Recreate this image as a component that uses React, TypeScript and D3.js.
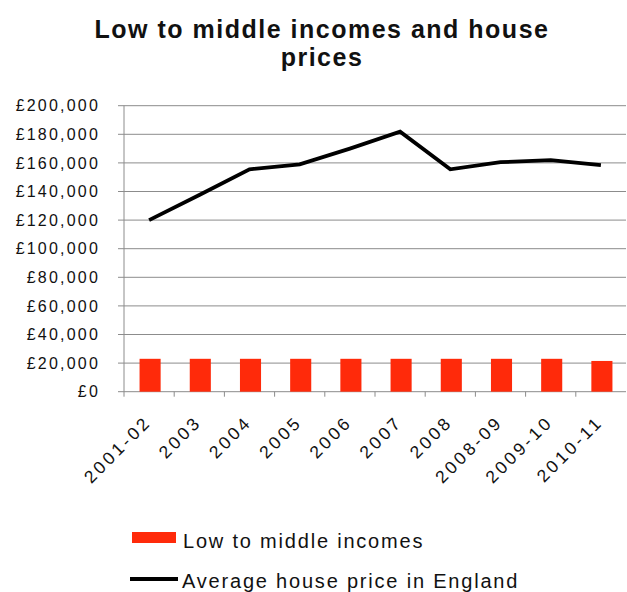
import React from "react";
import * as d3 from "d3";

const categories = ["2001-02", "2003", "2004", "2005", "2006", "2007", "2008", "2008-09", "2009-10", "2010-11"];
const incomes = [23000, 23000, 23000, 23000, 23000, 23000, 23000, 23000, 23000, 21500];
const housePrices = [120000, 137500, 155500, 159000, 170000, 181800, 155500, 160500, 162000, 158500];
const yTicks = [0, 20000, 40000, 60000, 80000, 100000, 120000, 140000, 160000, 180000, 200000];
const titleLines = ["Low to middle incomes and house", "prices"];
const legendLabels = ["Low to middle incomes", "Average house price in England"];

const W = 627;
const H = 592;
const left = 124;
const right = 626;
const top = 105.7;
const bottom = 391.7;

export default function App() {
  const x = d3.scaleBand<string>().domain(categories).range([left, right]).padding(0);
  const y = d3.scaleLinear().domain([0, 200000]).range([bottom, top]);
  const barW = x.bandwidth() * 0.42;
  const fmt = (v: number) => "£" + d3.format(",")(v);
  const line = d3
    .line<number>()
    .x((_, i) => (x(categories[i]) as number) + x.bandwidth() / 2)
    .y((d) => y(d));

  const font = "'Liberation Sans', Arial, sans-serif";

  return (
    <svg width={W} height={H} style={{ position: "absolute", left: 0, top: 0, background: "#fff" }}>
      <rect x={0} y={0} width={W} height={H} fill="#fff" />
      {titleLines.map((t, i) => (
        <text
          key={i}
          x={322}
          y={37.5 + i * 28.5}
          textAnchor="middle"
          fontFamily={font}
          fontWeight="bold"
          fontSize={25}
          letterSpacing={1.5}
          fill="#111"
        >
          {t}
        </text>
      ))}
      {yTicks.map((t) => (
        <g key={t}>
          {t > 0 && (
            <line x1={left} x2={right} y1={y(t)} y2={y(t)} stroke="#8c8c8c" strokeWidth={1} />
          )}
          <line x1={left - 6} x2={left} y1={y(t)} y2={y(t)} stroke="#8c8c8c" strokeWidth={1} />
          <text
            x={100}
            y={y(t)}
            dy="0.36em"
            textAnchor="end"
            fontFamily={font}
            fontSize={16}
            letterSpacing={2.2}
            fill="#111"
          >
            {fmt(t)}
          </text>
        </g>
      ))}
      <line x1={left} x2={left} y1={top} y2={bottom} stroke="#8c8c8c" strokeWidth={1} />
      <line x1={left} x2={right} y1={bottom} y2={bottom} stroke="#8c8c8c" strokeWidth={1} />
      {categories.map((c, i) => (
        <line
          key={"tk" + i}
          x1={x(c) as number}
          x2={x(c) as number}
          y1={bottom}
          y2={bottom + 5}
          stroke="#8c8c8c"
          strokeWidth={1}
        />
      ))}
      {incomes.map((v, i) => (
        <rect
          key={"b" + i}
          x={(x(categories[i]) as number) + (x.bandwidth() - barW) / 2 + 1}
          y={y(v)}
          width={barW}
          height={bottom - y(v)}
          fill="#ff2a0a"
        />
      ))}
      <path d={line(housePrices) || ""} fill="none" stroke="#000" strokeWidth={3.8} strokeLinejoin="miter" />
      {categories.map((c, i) => {
        const cx = (x(c) as number) + x.bandwidth() / 2 - 1;
        return (
          <text
            key={"xl" + i}
            transform={`translate(${cx},${bottom + 27}) rotate(-45)`}
            textAnchor="end"
            dy="0.35em"
            fontFamily={font}
            fontSize={17.5}
            letterSpacing={3.2}
            fill="#111"
          >
            {c}
          </text>
        );
      })}
      <rect x={132} y={532} width={44} height={11} fill="#ff2a0a" />
      <text x={183} y={548} fontFamily={font} fontSize={20} letterSpacing={1.8} fill="#111">
        {legendLabels[0]}
      </text>
      <line x1={130} x2={178} y1={579} y2={579} stroke="#000" strokeWidth={3.8} />
      <text x={182} y={588} fontFamily={font} fontSize={20} letterSpacing={1.8} fill="#111">
        {legendLabels[1]}
      </text>
    </svg>
  );
}
